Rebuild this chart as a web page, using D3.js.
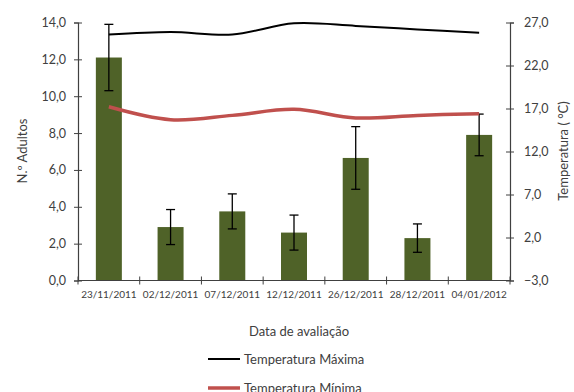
<!DOCTYPE html>
<html>
<head>
<meta charset="utf-8">
<script src="https://cdn.jsdelivr.net/npm/d3@7"></script>
<style>
  body { margin: 0; background: #fff; }
  svg text { font-family: Lato, "Open Sans", sans-serif; fill: #404040; }
</style>
</head>
<body>
<div id="chart"></div>
<script>
// chart data
const dates = ['23/11/2011', '02/12/2011', '07/12/2011', '12/12/2011', '26/12/2011', '28/12/2011', '04/01/2012'];
const adultos = [12.1, 2.9, 3.75, 2.6, 6.65, 2.3, 7.9];
const adultosErr = [1.8, 0.95, 0.95, 0.95, 1.7, 0.77, 1.13];
const tempMax = [25.6, 25.9, 25.6, 26.9, 26.6, 26.2, 25.8];
const tempMin = [17.2, 15.7, 16.2, 16.9, 15.9, 16.2, 16.4];
const leftTicks = [0, 2, 4, 6, 8, 10, 12, 14];
const rightTicks = [-3, 2, 7, 12, 17, 22, 27];

const W = 574, H = 392;
const plotLeft = 78, plotRight = 510, plotTop = 22.5, plotBottom = 280.5;

const pt = d3.formatLocale({ decimal: ',', thousands: '.', grouping: [3], currency: ['', ''] });
const fmt = pt.format('.1f');

const svg = d3.select('#chart').append('svg')
  .attr('width', W)
  .attr('height', H);

const x = d3.scaleBand().domain(dates).range([plotLeft, plotRight]);
const y = d3.scaleLinear().domain([0, 14]).range([plotBottom, plotTop]);
const y2 = d3.scaleLinear().domain([-3, 27]).range([plotBottom, plotTop]);

const barW = 26;

// bars
svg.selectAll('rect.bar')
  .data(adultos)
  .enter().append('rect')
  .attr('class', 'bar')
  .attr('x', (d, i) => x(dates[i]) + x.bandwidth() / 2 - barW / 2)
  .attr('y', d => y(d))
  .attr('width', barW)
  .attr('height', d => y(0) - y(d))
  .attr('fill', '#4f6228');

// error bars
const err = svg.append('g').attr('stroke', '#000').attr('stroke-width', 1.3);
adultos.forEach(function(d, i) {
  const cx = x(dates[i]) + x.bandwidth() / 2;
  const hi = y(d + adultosErr[i]), lo = y(d - adultosErr[i]);
  err.append('line').attr('x1', cx).attr('x2', cx).attr('y1', hi).attr('y2', lo);
  err.append('line').attr('x1', cx - 4.5).attr('x2', cx + 4.5).attr('y1', hi).attr('y2', hi);
  err.append('line').attr('x1', cx - 4.5).attr('x2', cx + 4.5).attr('y1', lo).attr('y2', lo);
});

// temperature lines
const line = d3.line()
  .x((d, i) => x(dates[i]) + x.bandwidth() / 2)
  .y(d => y2(d))
  .curve(d3.curveCatmullRom.alpha(0.5));

svg.append('path').datum(tempMin)
  .attr('d', line)
  .attr('fill', 'none')
  .attr('stroke', '#c0504d')
  .attr('stroke-width', 3.5);

svg.append('path').datum(tempMax)
  .attr('d', line)
  .attr('fill', 'none')
  .attr('stroke', '#000')
  .attr('stroke-width', 2);

// axes
const axL = svg.append('g')
  .attr('transform', `translate(${plotLeft},0)`)
  .call(d3.axisLeft(y).tickValues(leftTicks).tickFormat(fmt).tickSize(4).tickPadding(8));
axL.selectAll('.tick line').attr('x2', 4).attr('x1', -4);

const axR = svg.append('g')
  .attr('transform', `translate(${plotRight},0)`)
  .call(d3.axisRight(y2).tickValues(rightTicks).tickFormat(fmt).tickSize(4).tickPadding(10));
axR.selectAll('.tick line').attr('x1', -4).attr('x2', 4);

const axB = svg.append('g')
  .attr('transform', `translate(0,${plotBottom})`)
  .call(d3.axisBottom(x).tickSize(0).tickPadding(10));
axB.select('.domain').remove();
axB.selectAll('.tick text').attr('font-size', 10);
// category boundary ticks
const edges = dates.map(d => x(d)).concat([plotRight]);
svg.append('g').selectAll('line')
  .data(edges)
  .enter().append('line')
  .attr('x1', d => d).attr('x2', d => d)
  .attr('y1', plotBottom - 4).attr('y2', plotBottom + 4)
  .attr('stroke', '#404040');
svg.append('line')
  .attr('x1', plotLeft).attr('x2', plotRight)
  .attr('y1', plotBottom).attr('y2', plotBottom)
  .attr('stroke', '#404040');

[axL, axR].forEach(function(g) {
  g.select('.domain').attr('stroke', '#404040').attr('stroke-width', 1.2);
  g.selectAll('.tick line').attr('stroke', '#404040');
  g.selectAll('.tick text').attr('font-size', 12.5).attr('fill', '#404040');
});

// axis titles
svg.append('text')
  .attr('transform', 'translate(22,151) rotate(-90)')
  .attr('text-anchor', 'middle')
  .attr('dominant-baseline', 'central')
  .attr('font-size', 13)
  .text('N.º Adultos');

svg.append('text')
  .attr('transform', 'translate(563,151) rotate(-90)')
  .attr('text-anchor', 'middle')
  .attr('dominant-baseline', 'central')
  .attr('font-size', 13)
  .text('Temperatura ( °C)');

svg.append('text')
  .attr('x', 299).attr('y', 331)
  .attr('text-anchor', 'middle')
  .attr('dominant-baseline', 'central')
  .attr('font-size', 13)
  .text('Data de avaliação');

// legend
const legend = [
  { name: 'Temperatura Máxima', color: '#000', w: 2, y: 359 },
  { name: 'Temperatura Mínima', color: '#c0504d', w: 3.5, y: 388 }
];
legend.forEach(function(l) {
  svg.append('line')
    .attr('x1', 208).attr('x2', 240)
    .attr('y1', l.y).attr('y2', l.y)
    .attr('stroke', l.color).attr('stroke-width', l.w);
  svg.append('text')
    .attr('x', 244).attr('y', l.y)
    .attr('dominant-baseline', 'central')
    .attr('font-size', 13)
    .text(l.name);
});
</script>
</body>
</html>
